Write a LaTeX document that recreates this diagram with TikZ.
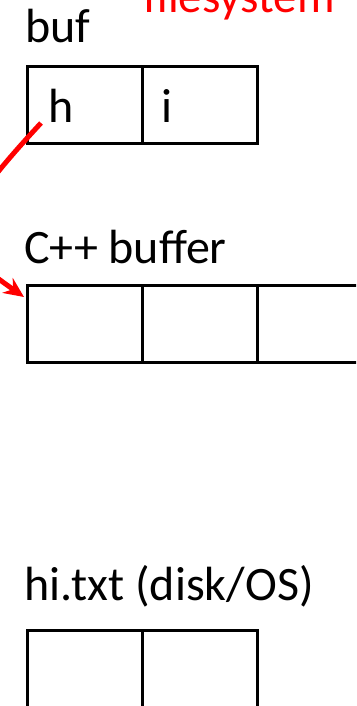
\documentclass[tikz,border=0pt]{standalone}
\usepackage{fontspec}
\setmainfont{Carlito}
\usetikzlibrary{arrows.meta}
\begin{document}
\begin{tikzpicture}[x=1pt,y=-1pt,
  cell/.style={draw=black,line width=3pt,minimum width=115pt,minimum height=77pt,inner sep=0pt,outer sep=0pt},
  title/.style={anchor=base west,inner sep=0pt,font=\fontsize{48}{58}\selectfont},
  glyph/.style={anchor=base west,inner sep=0pt,font=\fontsize{48}{58}\selectfont},
  note/.style={anchor=base west,inner sep=0pt,text=red,font=\fontsize{47}{56}\selectfont},
  link/.style={draw=red,line width=5pt,-{Stealth[length=20pt,width=18pt]}}]
\useasboundingbox (0,0) rectangle (356,706);
\clip (0,0) rectangle (356,706);

% handwritten annotation, mostly above the top edge
\node[note] (fs) at (143,13) {filesystem};

% buf: two chars
\node[title] (buflbl) at (25,43) {buf};
\node[cell] (b0) at (84.5,105) {};
\node[cell] (b1) at (199.5,105) {};
\node[glyph] (bh) at (48,122) {h};
\node[glyph] (bi) at (161,122) {i};

% C++ buffer
\node[title] (cpplbl) at (24,263) {C++ buffer};
\node[cell] (c0) at (84.5,324) {};
\node[cell] (c1) at (199.5,324) {};
\node[cell] (c2) at (314.5,324) {};

% file on disk
\node[title] (hilbl) at (24,600) {hi.txt (disk/OS)};
\node[cell] (d0) at (84.5,669) {};
\node[cell] (d1) at (199.5,669) {};

% copy from buf into the C++ buffer
\coordinate (src) at (41,123);
\coordinate (dst) at (24,297);
\path[link] (src) .. controls (-60,232) and (-50,245) .. (dst);
\end{tikzpicture}
\end{document}
